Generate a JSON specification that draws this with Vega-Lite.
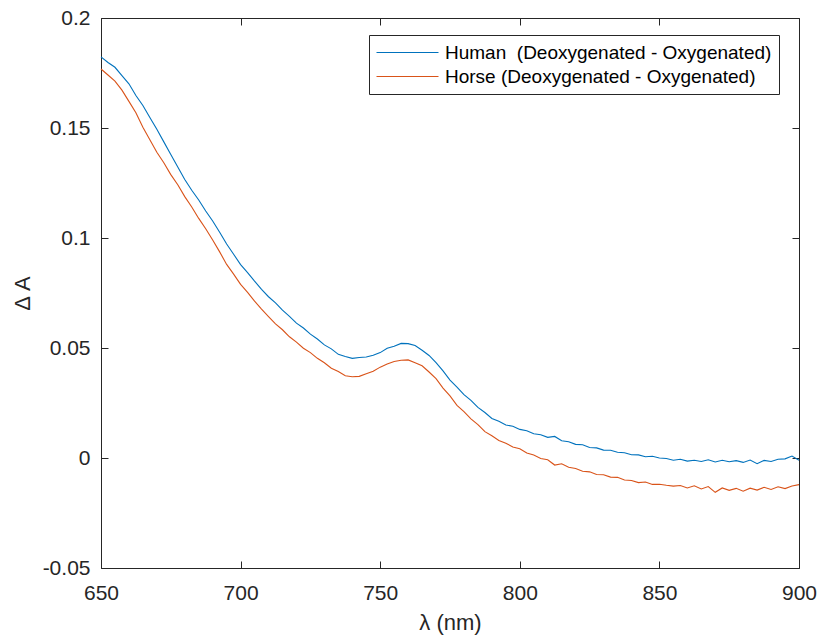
{
  "$schema": "https://vega.github.io/schema/vega-lite/v6.json",
  "width": 698,
  "height": 550,
  "autosize": {"type": "none"},
  "padding": {"left": 101, "top": 18, "right": 21, "bottom": 68},
  "background": "white",
  "config": {
    "view": {"stroke": null},
    "font": "Liberation Sans",
    "axis": {
      "grid": false,
      "domainColor": "#262626",
      "domainWidth": 1,
      "tickColor": "#262626",
      "tickWidth": 1,
      "tickSize": -7,
      "labelColor": "#262626",
      "labelFontSize": 21,
      "labelFont": "Liberation Sans",
      "titleColor": "#262626",
      "titleFont": "Liberation Sans",
      "titleFontWeight": "normal",
      "titleFontSize": 22
    }
  },
  "data": {
    "values": [
      {"nm": 650, "h": 0.1823, "o": 0.1768},
      {"nm": 652.5, "h": 0.1798, "o": 0.1741},
      {"nm": 655, "h": 0.1776, "o": 0.1713},
      {"nm": 657.5, "h": 0.1738, "o": 0.1672},
      {"nm": 660, "h": 0.1701, "o": 0.1621},
      {"nm": 662.5, "h": 0.1648, "o": 0.1569},
      {"nm": 665, "h": 0.1602, "o": 0.1503},
      {"nm": 667.5, "h": 0.1548, "o": 0.1447},
      {"nm": 670, "h": 0.1494, "o": 0.139},
      {"nm": 672.5, "h": 0.1437, "o": 0.1342},
      {"nm": 675, "h": 0.138, "o": 0.1288},
      {"nm": 677.5, "h": 0.1323, "o": 0.1242},
      {"nm": 680, "h": 0.1266, "o": 0.1188},
      {"nm": 682.5, "h": 0.1217, "o": 0.1141},
      {"nm": 685, "h": 0.1173, "o": 0.1089},
      {"nm": 687.5, "h": 0.1123, "o": 0.1042},
      {"nm": 690, "h": 0.1077, "o": 0.0991},
      {"nm": 692.5, "h": 0.1026, "o": 0.0937},
      {"nm": 695, "h": 0.0973, "o": 0.088},
      {"nm": 697.5, "h": 0.0926, "o": 0.0836},
      {"nm": 700, "h": 0.0879, "o": 0.0789},
      {"nm": 702.5, "h": 0.0843, "o": 0.0753},
      {"nm": 705, "h": 0.0804, "o": 0.0713},
      {"nm": 707.5, "h": 0.0767, "o": 0.0677},
      {"nm": 710, "h": 0.0733, "o": 0.0643},
      {"nm": 712.5, "h": 0.0705, "o": 0.061},
      {"nm": 715, "h": 0.0672, "o": 0.0583},
      {"nm": 717.5, "h": 0.0644, "o": 0.0551},
      {"nm": 720, "h": 0.0613, "o": 0.0527},
      {"nm": 722.5, "h": 0.0591, "o": 0.0499},
      {"nm": 725, "h": 0.0563, "o": 0.0479},
      {"nm": 727.5, "h": 0.0541, "o": 0.0453},
      {"nm": 730, "h": 0.0514, "o": 0.0433},
      {"nm": 732.5, "h": 0.0496, "o": 0.0408},
      {"nm": 735, "h": 0.0471, "o": 0.0393},
      {"nm": 737.5, "h": 0.0461, "o": 0.0374},
      {"nm": 740, "h": 0.0453, "o": 0.0369},
      {"nm": 742.5, "h": 0.0457, "o": 0.0371},
      {"nm": 745, "h": 0.0459, "o": 0.0383},
      {"nm": 747.5, "h": 0.0467, "o": 0.0394},
      {"nm": 750, "h": 0.0479, "o": 0.0413},
      {"nm": 752.5, "h": 0.0499, "o": 0.0427},
      {"nm": 755, "h": 0.0508, "o": 0.0439},
      {"nm": 757.5, "h": 0.0521, "o": 0.0444},
      {"nm": 760, "h": 0.052, "o": 0.0446},
      {"nm": 762.5, "h": 0.0511, "o": 0.0433},
      {"nm": 765, "h": 0.049, "o": 0.0419},
      {"nm": 767.5, "h": 0.0466, "o": 0.0391},
      {"nm": 770, "h": 0.0433, "o": 0.0361},
      {"nm": 772.5, "h": 0.0396, "o": 0.0318},
      {"nm": 775, "h": 0.0354, "o": 0.0282},
      {"nm": 777.5, "h": 0.0322, "o": 0.0239},
      {"nm": 780, "h": 0.0288, "o": 0.0211},
      {"nm": 782.5, "h": 0.0262, "o": 0.0178},
      {"nm": 785, "h": 0.023, "o": 0.0152},
      {"nm": 787.5, "h": 0.0207, "o": 0.012},
      {"nm": 790, "h": 0.018, "o": 0.0101},
      {"nm": 792.5, "h": 0.0167, "o": 0.008},
      {"nm": 795, "h": 0.015, "o": 0.0067},
      {"nm": 797.5, "h": 0.0144, "o": 0.005},
      {"nm": 800, "h": 0.013, "o": 0.0042},
      {"nm": 802.5, "h": 0.0124, "o": 0.0023},
      {"nm": 805, "h": 0.011, "o": 0.0014},
      {"nm": 807.5, "h": 0.0106, "o": -0.0002},
      {"nm": 810, "h": 0.0094, "o": -0.0008},
      {"nm": 812.5, "h": 0.0098, "o": -0.0032},
      {"nm": 815, "h": 0.0078, "o": -0.0026},
      {"nm": 817.5, "h": 0.0074, "o": -0.0042},
      {"nm": 820, "h": 0.0062, "o": -0.0048},
      {"nm": 822.5, "h": 0.006, "o": -0.006},
      {"nm": 825, "h": 0.0048, "o": -0.0063},
      {"nm": 827.5, "h": 0.0046, "o": -0.0075},
      {"nm": 830, "h": 0.0036, "o": -0.0076},
      {"nm": 832.5, "h": 0.0035, "o": -0.0087},
      {"nm": 835, "h": 0.0026, "o": -0.0088},
      {"nm": 837.5, "h": 0.0024, "o": -0.01},
      {"nm": 840, "h": 0.0015, "o": -0.0102},
      {"nm": 842.5, "h": 0.0014, "o": -0.0112},
      {"nm": 845, "h": 0.0006, "o": -0.0109},
      {"nm": 847.5, "h": 0.0008, "o": -0.012},
      {"nm": 850, "h": 0.0, "o": -0.0119},
      {"nm": 852.5, "h": -0.0002, "o": -0.0124},
      {"nm": 855, "h": -0.001, "o": -0.0128},
      {"nm": 857.5, "h": -0.0006, "o": -0.0125},
      {"nm": 860, "h": -0.0014, "o": -0.0136},
      {"nm": 862.5, "h": -0.001, "o": -0.0126},
      {"nm": 865, "h": -0.0016, "o": -0.0141},
      {"nm": 867.5, "h": -0.0008, "o": -0.013},
      {"nm": 870, "h": -0.0018, "o": -0.0156},
      {"nm": 872.5, "h": -0.001, "o": -0.0136},
      {"nm": 875, "h": -0.0017, "o": -0.0147},
      {"nm": 877.5, "h": -0.0012, "o": -0.0138},
      {"nm": 880, "h": -0.002, "o": -0.0151},
      {"nm": 882.5, "h": -0.0009, "o": -0.0137},
      {"nm": 885, "h": -0.0026, "o": -0.0146},
      {"nm": 887.5, "h": -0.0011, "o": -0.0133},
      {"nm": 890, "h": -0.0016, "o": -0.0143},
      {"nm": 892.5, "h": -0.0006, "o": -0.0131},
      {"nm": 895, "h": -0.0004, "o": -0.0139},
      {"nm": 897.5, "h": 0.0009, "o": -0.0127},
      {"nm": 900, "h": -0.001, "o": -0.0121}
    ]
  },
  "transform": [{"fold": ["h", "o"], "as": ["series", "value"]}],
  "layer": [
    {
      "mark": {"type": "line", "strokeWidth": 1.1},
      "encoding": {
        "x": {
          "field": "nm",
          "type": "quantitative",
          "scale": {"domain": [650, 900], "nice": false, "zero": false},
          "axis": {
            "orient": "bottom",
            "title": "λ (nm)",
            "values": [650, 700, 750, 800, 850, 900],
            "labelPadding": 21,
            "titlePadding": 9,
            "labelFlush": false
          }
        },
        "y": {
          "field": "value",
          "type": "quantitative",
          "scale": {"domain": [-0.05, 0.2], "nice": false, "zero": false},
          "axis": {
            "orient": "left",
            "title": "Δ A",
            "values": [-0.05, 0, 0.05, 0.1, 0.15, 0.2],
            "labelExpr": "toString(datum.value)",
            "labelPadding": 18,
            "titlePadding": 8,
            "labelFlush": false
          }
        },
        "color": {
          "field": "series",
          "type": "nominal",
          "scale": {"domain": ["h", "o"], "range": ["#0072BD", "#D95319"]},
          "legend": {
            "orient": "none",
            "legendX": 268,
            "legendY": 17,
            "title": null,
            "symbolType": "M-3.1,0H3.1",
            "symbolSize": 400,
            "symbolStrokeWidth": 1,
            "symbolOffset": 21,
            "labelFontSize": 19,
            "labelFont": "Liberation Sans",
            "labelColor": "#000000",
            "labelLimit": 0,
            "labelOffset": 27,
            "rowPadding": 3,
            "padding": 7,
            "strokeColor": "#262626",
            "fillColor": "white",
            "labelExpr": "datum.value == 'h' ? 'Human\u00a0 (Deoxygenated - Oxygenated)' : 'Horse (Deoxygenated - Oxygenated)'"
          }
        }
      }
    },
    {
      "mark": {"type": "line", "opacity": 0},
      "encoding": {
        "x": {
          "field": "nm",
          "type": "quantitative",
          "axis": {"orient": "top", "title": null, "labels": false, "values": [650, 700, 750, 800, 850, 900]}
        },
        "y": {
          "field": "value",
          "type": "quantitative",
          "axis": {"orient": "right", "title": null, "labels": false, "values": [-0.05, 0, 0.05, 0.1, 0.15, 0.2]}
        },
        "detail": {"field": "series", "type": "nominal"}
      }
    }
  ],
  "resolve": {"axis": {"x": "independent", "y": "independent"}}
}
